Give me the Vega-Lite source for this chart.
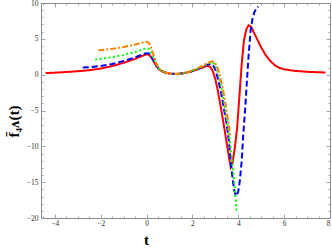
{
"$schema":"https://vega.github.io/schema/vega-lite/v6.json",
"width":289,"height":215,"autosize":"none",
"padding":{"left":41,"top":3,"right":2,"bottom":31},
"background":"white",
"config":{"view":{"stroke":"#8c8c8c","strokeWidth":1},
"axis":{"grid":false,"domain":false,"tickColor":"#8c8c8c","tickWidth":0.8,"labelFont":"Liberation Serif","labelFontSize":7.5,"labelColor":"#333333","titleFont":"Liberation Serif","titleFontWeight":"bold","titleColor":"#000000"}},
"data":{"values":[
{"s":"a","t":-4.4,"y":0.22},{"s":"a","t":-4,"y":0.28},{"s":"a","t":-3.5,"y":0.37},{"s":"a","t":-3,"y":0.48},{"s":"a","t":-2.5,"y":0.62},{"s":"a","t":-2,"y":0.85},{"s":"a","t":-1.5,"y":1.2},{"s":"a","t":-1,"y":1.65},{"s":"a","t":-0.5,"y":2.2},{"s":"a","t":-0.2,"y":2.6},{"s":"a","t":0,"y":2.85},{"s":"a","t":0.1,"y":2.8},{"s":"a","t":0.2,"y":2.45},{"s":"a","t":0.3,"y":1.9},{"s":"a","t":0.4,"y":1.35},{"s":"a","t":0.5,"y":0.9},{"s":"a","t":0.6,"y":0.6},{"s":"a","t":0.8,"y":0.3},{"s":"a","t":1.0,"y":0.15},{"s":"a","t":1.3,"y":0.1},{"s":"a","t":1.6,"y":0.2},{"s":"a","t":1.9,"y":0.4},{"s":"a","t":2.2,"y":0.7},{"s":"a","t":2.45,"y":1.0},{"s":"a","t":2.6,"y":1.2},{"s":"a","t":2.7,"y":1.25},{"s":"a","t":2.8,"y":1.0},{"s":"a","t":2.9,"y":0.4},{"s":"a","t":3.0,"y":-0.6},{"s":"a","t":3.1,"y":-2.1},{"s":"a","t":3.2,"y":-3.8},{"s":"a","t":3.3,"y":-5.7},{"s":"a","t":3.4,"y":-7.6},{"s":"a","t":3.5,"y":-9.6},{"s":"a","t":3.6,"y":-11.6},{"s":"a","t":3.67,"y":-12.9},{"s":"a","t":3.75,"y":-12.3},{"s":"a","t":3.85,"y":-10.2},{"s":"a","t":3.95,"y":-7.5},{"s":"a","t":4.05,"y":-3.0},{"s":"a","t":4.15,"y":1.5},{"s":"a","t":4.25,"y":4.8},{"s":"a","t":4.35,"y":6.3},{"s":"a","t":4.45,"y":6.9},{"s":"a","t":4.55,"y":6.7},{"s":"a","t":4.65,"y":6.1},{"s":"a","t":4.8,"y":5.1},{"s":"a","t":5.0,"y":3.8},{"s":"a","t":5.2,"y":2.7},{"s":"a","t":5.4,"y":1.9},{"s":"a","t":5.6,"y":1.3},{"s":"a","t":5.8,"y":0.95},{"s":"a","t":6.0,"y":0.75},{"s":"a","t":6.4,"y":0.55},{"s":"a","t":7.0,"y":0.4},{"s":"a","t":7.8,"y":0.3},
{"s":"b","t":-2.78,"y":1.0},{"s":"b","t":-2.5,"y":1.05},{"s":"b","t":-2,"y":1.2},{"s":"b","t":-1.5,"y":1.5},{"s":"b","t":-1,"y":1.9},{"s":"b","t":-0.5,"y":2.4},{"s":"b","t":-0.2,"y":2.8},{"s":"b","t":0,"y":3.0},{"s":"b","t":0.1,"y":2.95},{"s":"b","t":0.2,"y":2.6},{"s":"b","t":0.3,"y":2.0},{"s":"b","t":0.4,"y":1.4},{"s":"b","t":0.5,"y":0.95},{"s":"b","t":0.6,"y":0.62},{"s":"b","t":0.8,"y":0.3},{"s":"b","t":1.0,"y":0.15},{"s":"b","t":1.3,"y":0.1},{"s":"b","t":1.6,"y":0.2},{"s":"b","t":1.9,"y":0.4},{"s":"b","t":2.2,"y":0.75},{"s":"b","t":2.45,"y":1.1},{"s":"b","t":2.65,"y":1.4},{"s":"b","t":2.8,"y":1.5},{"s":"b","t":2.9,"y":1.3},{"s":"b","t":3.0,"y":0.7},{"s":"b","t":3.1,"y":-0.4},{"s":"b","t":3.2,"y":-1.8},{"s":"b","t":3.3,"y":-3.3},{"s":"b","t":3.4,"y":-5.2},{"s":"b","t":3.5,"y":-7.0},{"s":"b","t":3.6,"y":-9.5},{"s":"b","t":3.67,"y":-12.0},{"s":"b","t":3.75,"y":-14.5},{"s":"b","t":3.83,"y":-16.2},{"s":"b","t":3.9,"y":-16.9},{"s":"b","t":3.95,"y":-16.7},{"s":"b","t":4.0,"y":-16.3},{"s":"b","t":4.07,"y":-14.8},{"s":"b","t":4.15,"y":-12.0},{"s":"b","t":4.22,"y":-8.3},{"s":"b","t":4.3,"y":-4.8},{"s":"b","t":4.37,"y":-1.3},{"s":"b","t":4.45,"y":2.6},{"s":"b","t":4.54,"y":6.2},{"s":"b","t":4.62,"y":7.8},{"s":"b","t":4.7,"y":8.7},{"s":"b","t":4.8,"y":9.3},{"s":"b","t":4.87,"y":9.5},
{"s":"c","t":-2.24,"y":2.1},{"s":"c","t":-2,"y":2.2},{"s":"c","t":-1.5,"y":2.45},{"s":"c","t":-1,"y":2.75},{"s":"c","t":-0.5,"y":3.15},{"s":"c","t":-0.2,"y":3.5},{"s":"c","t":0,"y":3.7},{"s":"c","t":0.1,"y":3.6},{"s":"c","t":0.2,"y":3.1},{"s":"c","t":0.3,"y":2.4},{"s":"c","t":0.4,"y":1.6},{"s":"c","t":0.5,"y":1.0},{"s":"c","t":0.6,"y":0.65},{"s":"c","t":0.8,"y":0.3},{"s":"c","t":1.0,"y":0.15},{"s":"c","t":1.3,"y":0.1},{"s":"c","t":1.6,"y":0.2},{"s":"c","t":1.9,"y":0.45},{"s":"c","t":2.2,"y":0.8},{"s":"c","t":2.5,"y":1.25},{"s":"c","t":2.7,"y":1.6},{"s":"c","t":2.85,"y":1.7},{"s":"c","t":2.95,"y":1.5},{"s":"c","t":3.05,"y":0.9},{"s":"c","t":3.15,"y":-0.2},{"s":"c","t":3.25,"y":-1.6},{"s":"c","t":3.35,"y":-3.3},{"s":"c","t":3.45,"y":-5.3},{"s":"c","t":3.55,"y":-7.4},{"s":"c","t":3.65,"y":-9.8},{"s":"c","t":3.75,"y":-12.5},{"s":"c","t":3.85,"y":-15.8},{"s":"c","t":3.93,"y":-19.2},
{"s":"d","t":-2.1,"y":3.4},{"s":"d","t":-1.5,"y":3.6},{"s":"d","t":-1,"y":3.85},{"s":"d","t":-0.5,"y":4.2},{"s":"d","t":-0.2,"y":4.45},{"s":"d","t":0,"y":4.6},{"s":"d","t":0.1,"y":4.45},{"s":"d","t":0.2,"y":3.8},{"s":"d","t":0.3,"y":2.8},{"s":"d","t":0.4,"y":1.8},{"s":"d","t":0.5,"y":1.1},{"s":"d","t":0.6,"y":0.7},{"s":"d","t":0.8,"y":0.3},{"s":"d","t":1.0,"y":0.15},{"s":"d","t":1.3,"y":0.1},{"s":"d","t":1.6,"y":0.2},{"s":"d","t":1.9,"y":0.45},{"s":"d","t":2.2,"y":0.85},{"s":"d","t":2.5,"y":1.35},{"s":"d","t":2.75,"y":1.75},{"s":"d","t":2.9,"y":1.85},{"s":"d","t":3.0,"y":1.6},{"s":"d","t":3.1,"y":0.9},{"s":"d","t":3.2,"y":-0.2},{"s":"d","t":3.3,"y":-1.6},{"s":"d","t":3.4,"y":-3.2},{"s":"d","t":3.5,"y":-5.2},{"s":"d","t":3.6,"y":-7.3},{"s":"d","t":3.65,"y":-8.5}
]},
"layer":[
{"mark":{"type":"line","strokeWidth":2,"clip":true},
"encoding":{
"x":{"field":"t","type":"quantitative","scale":{"domain":[-4.6,8],"nice":false,"zero":false},
"axis":{"orient":"bottom","values":[-4,-2,0,2,4,6,8],"tickSize":-4,"labelPadding":5,"title":"t","titleFontSize":15,"titleX":105,"titleY":26,"titleAlign":"center","titleBaseline":"alphabetic"}},
"y":{"field":"y","type":"quantitative","scale":{"domain":[-20,10],"nice":false,"zero":false},
"axis":{"orient":"left","values":[-20,-15,-10,-5,0,5,10],"tickSize":-4,"labelPadding":7,"title":"f̄₄ᴧ(t)","titleFontSize":15,"titleX":-28,"titleY":118,"titleAngle":-90,"titleAlign":"center","titleBaseline":"middle"}},
"color":{"field":"s","type":"nominal","legend":null,"scale":{"domain":["a","b","c","d"],"range":["#ff0000","#0000ff","#00ff00","#ff8000"]}},
"strokeDash":{"field":"s","type":"nominal","legend":null,"scale":{"domain":["a","b","c","d"],"range":[[1,0],[6,3],[2,2.5],[6,2,2,2]]}}
}},
{"mark":{"type":"line","opacity":0},
"encoding":{
"x":{"field":"t","type":"quantitative","axis":{"orient":"bottom","labels":false,"title":null,"tickSize":-2,"values":[-4.5,-3.5,-3,-2.5,-1.5,-1,-0.5,0.5,1,1.5,2.5,3,3.5,4.5,5,5.5,6.5,7,7.5]}},
"y":{"field":"y","type":"quantitative","axis":{"orient":"left","labels":false,"title":null,"tickSize":-2,"values":[-19,-18,-17,-16,-14,-13,-12,-11,-9,-8,-7,-6,-4,-3,-2,-1,1,2,3,4,6,7,8,9]}},
"detail":{"field":"s"}}},
{"mark":{"type":"line","opacity":0},
"encoding":{
"x":{"field":"t","type":"quantitative","axis":{"orient":"top","labels":false,"title":null,"tickSize":-4,"values":[-4,-2,0,2,4,6,8]}},
"y":{"field":"y","type":"quantitative","axis":{"orient":"right","labels":false,"title":null,"tickSize":-4,"values":[-20,-15,-10,-5,0,5,10]}},
"detail":{"field":"s"}}},
{"mark":{"type":"line","opacity":0},
"encoding":{
"x":{"field":"t","type":"quantitative","axis":{"orient":"top","labels":false,"title":null,"tickSize":-2,"values":[-4.5,-3.5,-3,-2.5,-1.5,-1,-0.5,0.5,1,1.5,2.5,3,3.5,4.5,5,5.5,6.5,7,7.5]}},
"y":{"field":"y","type":"quantitative","axis":{"orient":"right","labels":false,"title":null,"tickSize":-2,"values":[-19,-18,-17,-16,-14,-13,-12,-11,-9,-8,-7,-6,-4,-3,-2,-1,1,2,3,4,6,7,8,9]}},
"detail":{"field":"s"}}}
],
"resolve":{"axis":{"x":"independent","y":"independent"}}
}
